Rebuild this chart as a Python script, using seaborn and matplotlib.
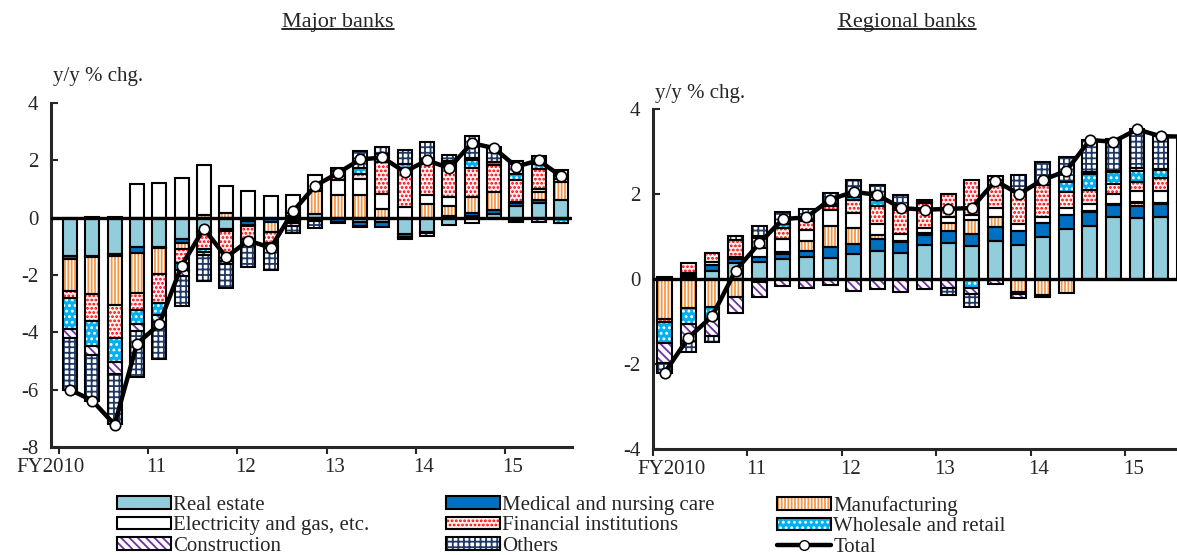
import numpy as np
import pandas as pd
import matplotlib
matplotlib.use("Agg")
import matplotlib.pyplot as plt
import seaborn as sns
from matplotlib.patches import Patch
from matplotlib.lines import Line2D
from matplotlib.legend_handler import HandlerTuple

# sectors in stacking order (nearest to zero first)
sectors = ["Real estate", "Medical and nursing care", "Manufacturing",
           "Electricity and gas, etc.", "Financial institutions",
           "Wholesale and retail", "Construction", "Others"]
year_labels = ["FY2010", "11", "12", "13", "14", "15"]

# Major banks, y/y % chg. contributions, FY2010Q1 - FY2015Q3
major_real_estate = [-1.35, -1.33, -1.27, -1.03, -1.03, -0.74, -0.45, -0.40, -0.10, -0.05, 0.05, 0.12,
                     -0.05, -0.15, -0.15, -0.56, -0.50, -0.27, 0.07, 0.14, 0.40, 0.51, 0.60]
major_medical = [-0.10, -0.03, -0.05, -0.20, -0.03, -0.15, -0.05, -0.05, -0.15, -0.10, -0.08, -0.05,
                 -0.10, -0.15, -0.18, -0.10, -0.05, 0.05, 0.10, 0.12, 0.10, 0.09, -0.05]
major_manufacturing = [-1.10, -1.30, -1.73, -1.40, -0.90, -0.20, 0.10, 0.15, -0.05, -0.35, 0.10, 0.82,
                       0.78, 0.78, 0.31, -0.09, 0.47, 0.37, 0.55, 0.64, -0.10, 0.29, 0.65]
major_electricity = [0.00, 0.02, 0.02, 1.17, 1.20, 1.38, 1.75, 0.95, 0.93, 0.75, 0.63, 0.55,
                     0.52, 0.58, 0.52, 0.37, 0.31, 0.30, -0.20, 0.00, 0.05, 0.10, 0.10]
major_financial = [-0.25, -0.95, -1.15, -0.60, -1.00, -0.50, -0.60, -0.95, -0.45, -0.40, -0.05, 0.00,
                   0.17, 0.16, 1.10, 1.28, 1.15, 1.20, 1.00, 0.93, 0.75, 0.70, 0.10]
major_wholesale = [-1.10, -0.85, -0.85, -0.47, -0.45, -0.25, -0.10, -0.10, -0.10, -0.05, -0.05, 0.00,
                   0.15, 0.23, 0.30, 0.23, 0.12, 0.05, 0.30, 0.10, 0.23, 0.17, -0.12]
major_construction = [-0.30, -0.32, -0.40, -0.27, -0.23, -0.18, -0.10, -0.10, -0.12, -0.12, -0.12, -0.05,
                      -0.05, -0.02, 0.00, 0.00, -0.08, 0.00, 0.05, 0.02, -0.05, -0.15, -0.03]
major_others = [-1.80, -1.60, -1.75, -1.60, -1.30, -1.05, -0.90, -0.85, -0.75, -0.75, -0.25, -0.25,
                0.12, 0.58, 0.22, 0.47, 0.58, 0.20, 0.78, 0.50, 0.45, 0.29, 0.20]
major_total = [-6.00, -6.38, -7.22, -4.40, -3.72, -1.68, -0.38, -1.38, -0.80, -1.05, 0.22, 1.12,
               1.55, 2.03, 2.10, 1.60, 2.00, 1.73, 2.60, 2.43, 1.78, 2.00, 1.45]

# Regional banks
regional_real_estate = [0.02, 0.05, 0.20, 0.38, 0.40, 0.47, 0.52, 0.49, 0.58, 0.65, 0.62, 0.81,
                        0.85, 0.78, 0.90, 0.80, 1.00, 1.17, 1.24, 1.45, 1.43, 1.47, 1.50]
regional_medical = [0.03, 0.05, 0.12, 0.08, 0.12, 0.12, 0.15, 0.26, 0.24, 0.28, 0.26, 0.23,
                    0.27, 0.28, 0.32, 0.32, 0.32, 0.33, 0.34, 0.29, 0.29, 0.29, 0.30]
regional_manufacturing = [-0.95, -0.68, -0.65, -0.43, -0.08, 0.05, 0.22, 0.50, 0.38, 0.10, 0.02, 0.04,
                          0.20, 0.33, 0.25, -0.30, -0.38, -0.33, 0.02, 0.02, 0.08, 0.03, 0.02]
regional_electricity = [0.00, 0.03, 0.08, 0.06, 0.20, 0.30, 0.27, 0.37, 0.35, 0.26, 0.16, 0.12,
                        0.14, 0.12, 0.20, 0.17, 0.15, 0.17, 0.16, 0.23, 0.28, 0.28, 0.27]
regional_financial = [-0.05, 0.25, 0.22, 0.40, 0.25, 0.25, 0.20, 0.10, 0.32, 0.42, 0.56, 0.60,
                      0.55, 0.82, 0.66, 0.78, 0.75, 0.37, 0.34, 0.25, 0.20, 0.30, 0.28]
regional_wholesale = [-0.50, -0.37, -0.30, 0.00, 0.03, 0.10, 0.05, 0.05, 0.05, 0.15, 0.04, 0.02,
                      0.00, -0.20, 0.00, -0.05, 0.06, 0.24, 0.38, 0.27, 0.26, 0.19, 0.20]
regional_construction = [-0.47, -0.40, -0.40, -0.38, -0.35, -0.17, -0.20, -0.15, -0.28, -0.24, -0.31, -0.23,
                         -0.22, -0.15, -0.12, -0.10, -0.05, 0.00, 0.04, 0.02, 0.07, 0.02, 0.02]
regional_others = [-0.25, -0.27, -0.13, 0.10, 0.24, 0.29, 0.24, 0.25, 0.40, 0.36, 0.32, 0.05,
                   -0.15, -0.30, 0.10, 0.38, 0.48, 0.60, 0.75, 0.77, 0.92, 0.79, 0.76]
regional_total = [-2.20, -1.38, -0.88, 0.20, 0.84, 1.41, 1.45, 1.87, 2.05, 1.98, 1.67, 1.63,
                  1.65, 1.67, 2.31, 2.00, 2.33, 2.54, 3.27, 3.23, 3.52, 3.36, 3.35]

# face colour, hatch, hatch colour
styles = {
    "Real estate": ("#92CDDC", None, "#92CDDC"),
    "Medical and nursing care": ("#0070C0", None, "#0070C0"),
    "Manufacturing": ("white", "|||||", "#F79646"),
    "Electricity and gas, etc.": ("white", None, "white"),
    "Financial institutions": ("#FFF2F2", "....", "#FF0000"),
    "Wholesale and retail": ("#00B0F0", "...", "white"),
    "Construction": ("white", "\\\\\\\\", "#7030A0"),
    "Others": ("white", "+++", "#1F3864"),
}

FS = 15

sns.set_style("ticks")
plt.rcParams["font.family"] = ["Liberation Serif", "DejaVu Serif"]
plt.rcParams["hatch.linewidth"] = 1.3

fig = plt.figure(figsize=(11.77, 5.55), dpi=100)
ax1 = fig.add_axes([51 / 1177, 1 - 447 / 555, 521 / 1177, 344 / 555])
ax2 = fig.add_axes([653 / 1177, 1 - 449 / 555, 543 / 1177, 340 / 555])


def draw_panel(ax, parts, total, ylim, yticks, first_label_pos, label_y):
    n = len(total)
    x = np.arange(n)
    pos_base = np.zeros(n)
    neg_base = np.zeros(n)
    for name, vals in zip(sectors, parts):
        vals = np.array(vals, dtype=float)
        bottom = np.where(vals >= 0, pos_base, neg_base)
        keep = vals != 0
        face, hatch, hc = styles[name]
        ax.bar(x[keep], vals[keep], width=0.63, bottom=bottom[keep], facecolor=face,
               hatch=hatch, edgecolor=hc, linewidth=0, zorder=2)
        ax.bar(x[keep], vals[keep], width=0.63, bottom=bottom[keep], facecolor="none",
               edgecolor="black", linewidth=1.5, zorder=2.1)
        pos_base += np.where(vals > 0, vals, 0)
        neg_base += np.where(vals < 0, vals, 0)
    ax.axhline(0, color="black", lw=2.4, zorder=3)

    df = pd.DataFrame({"q": x, "total": total})
    sns.lineplot(data=df, x="q", y="total", ax=ax, color="black", lw=3.2, marker="o",
                 markersize=7.5, markerfacecolor="white", markeredgecolor="black",
                 markeredgewidth=1.2, zorder=4)

    ax.set_xlim(-0.5, n - 0.5)
    ax.set_ylim(*ylim)
    ax.set_yticks(yticks)
    ax.set_yticklabels([f"{t:g}" for t in yticks])
    ax.tick_params(axis="y", direction="in", length=5, width=1.5, labelsize=FS, pad=9)

    bounds = np.arange(-0.5, n, 4)
    ax.set_xticks(bounds)
    ax.set_xticklabels([])
    ax.tick_params(axis="x", which="major", direction="out", length=5, width=1.5)
    ax.set_xticks([first_label_pos] + list(bounds[1:] + 0.35), minor=True)
    ax.set_xticklabels(year_labels, minor=True)
    ax.tick_params(axis="x", which="minor", length=0, labelsize=FS, pad=8)

    ax.set_xlabel("")
    ax.set_ylabel("")
    sns.despine(ax=ax)
    for s in ["left", "bottom"]:
        ax.spines[s].set_linewidth(2.2)
    pos = ax.get_position()
    fig.text(pos.x0 + 2 / 1177, 1 - label_y / 555, "y/y % chg.", ha="left", va="center", fontsize=FS)


major_parts = [major_real_estate, major_medical, major_manufacturing, major_electricity,
               major_financial, major_wholesale, major_construction, major_others]
regional_parts = [regional_real_estate, regional_medical, regional_manufacturing, regional_electricity,
                  regional_financial, regional_wholesale, regional_construction, regional_others]

draw_panel(ax1, major_parts, major_total, (-8, 4), [-8, -6, -4, -2, 0, 2, 4], -0.85, 77)
draw_panel(ax2, regional_parts, regional_total, (-4, 4), [-4, -2, 0, 2, 4], 0.3, 93)


def underlined_title(xc, yc, text):
    t = fig.text(xc, yc, text, ha="center", va="center", fontsize=16)
    fig.canvas.draw()
    bb = t.get_window_extent().transformed(fig.transFigure.inverted())
    fig.add_artist(Line2D([bb.x0, bb.x1], [bb.y0 + 0.005, bb.y0 + 0.005],
                          transform=fig.transFigure, color="black", lw=1.2))


underlined_title(338 / 1177, 1 - 22 / 555, "Major banks")
underlined_title(907 / 1177, 1 - 22 / 555, "Regional banks")

# legend handles
handles = {}
for name in sectors:
    face, hatch, hc = styles[name]
    handles[name] = (Patch(facecolor=face, hatch=hatch, edgecolor=hc, linewidth=0),
                     Patch(facecolor="none", edgecolor="black", linewidth=1.5))
handles["Total"] = Line2D([], [], color="black", lw=3.2, marker="o", markersize=7,
                          markerfacecolor="white", markeredgecolor="black")

columns = [["Real estate", "Electricity and gas, etc.", "Construction"],
           ["Medical and nursing care", "Financial institutions", "Others"],
           ["Manufacturing", "Wholesale and retail", "Total"]]
col_x = [117, 446, 777]
for names, cx in zip(columns, col_x):
    fig.legend([handles[k] for k in names], names, loc="upper left",
               bbox_to_anchor=(cx / 1177, 1 - 496 / 555), frameon=False,
               handlelength=2.6, handleheight=0.55, handletextpad=0.1,
               labelspacing=0.07, borderpad=0, borderaxespad=0, fontsize=FS,
               handler_map={tuple: HandlerTuple(ndivide=1, pad=0)})

fig.savefig("out.png", dpi=100)
